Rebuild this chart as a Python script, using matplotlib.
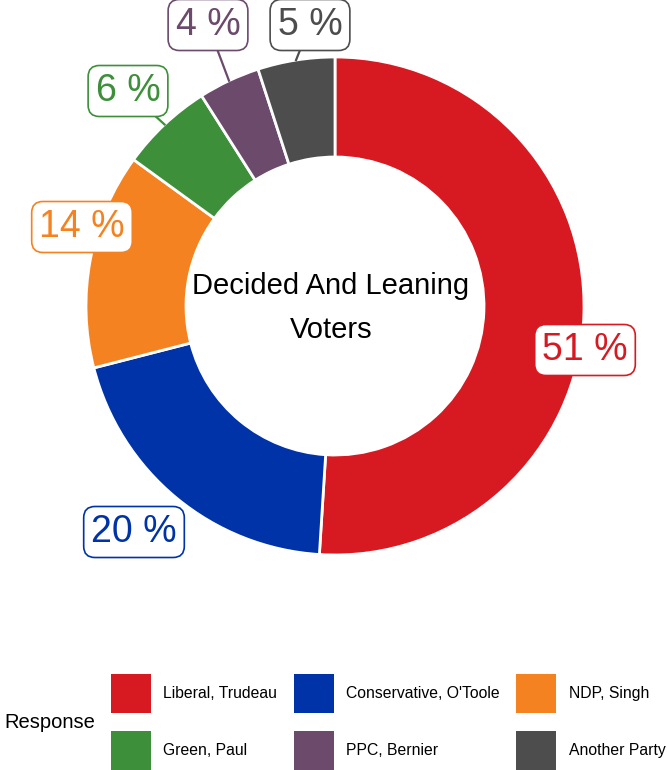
# Donut chart: Decided and leaning voters by party
import numpy as np
import matplotlib.pyplot as plt
from matplotlib.patches import Patch

plt.rcParams['font.family'] = ['Liberation Sans', 'DejaVu Sans']

# Dados
partidos = ['Liberal, Trudeau', 'Conservative, O\'Toole', 'NDP, Singh',
            'Green, Paul', 'PPC, Bernier', 'Another Party']
percentuais = [51, 20, 14, 6, 4, 5]
cores = ['#D71A21', '#0033A8', '#F58220', '#3D8F3A', '#6B4A6B', '#4D4D4D']
rotulos = ['51 %', '20 %', '14 %', '6 %', '4 %', '5 %']

# Layout (pixels, origem no topo à esquerda)
W, H = 667, 770
centro = (335, 306)
raio = 249
largura = 100
pos_rotulos = [(585, 350), (134, 532), (82, 227), (128, 91), (208, 25), (310, 25)]
com_linha = [False, False, False, True, True, True]

fig = plt.figure(figsize=(W / 100, H / 100), dpi=100)
ax = fig.add_axes([0, 0, 1, 1])

wedges, _ = ax.pie(percentuais, colors=cores, startangle=-90, counterclock=True,
                   center=centro, radius=raio,
                   wedgeprops=dict(width=largura, edgecolor='white', linewidth=2))
ax.set_xlim(0, W)
ax.set_ylim(H, 0)
ax.set_aspect('equal')
ax.axis('off')

# Rótulos com linhas de ligação
for w, txt, cor, pos, linha in zip(wedges, rotulos, cores, pos_rotulos, com_linha):
    ang = np.deg2rad((w.theta1 + w.theta2) / 2)
    px = centro[0] + raio * np.cos(ang)
    py = centro[1] + raio * np.sin(ang)
    if linha:
        ax.plot([px, pos[0]], [py, pos[1]], color=cor, lw=1.6, zorder=3)
    ax.text(pos[0], pos[1], txt, color=cor, fontsize=27, ha='center', va='center',
            zorder=4,
            bbox=dict(boxstyle='round,pad=0.2,rounding_size=0.3', fc='white',
                      ec=cor, lw=1.2))

ax.text(centro[0] - 4, centro[1] + 2, 'Decided And Leaning\nVoters', fontsize=21,
        ha='center', va='center', linespacing=1.75)

# Legenda (preenchida por linha: reordena para o preenchimento por coluna)
ordem = [0, 3, 1, 4, 2, 5]
handles = [Patch(facecolor=cores[i], edgecolor='none') for i in ordem]
nomes = [partidos[i] for i in ordem]
fig.legend(handles, nomes, ncol=3, loc='upper left',
           bbox_to_anchor=(103 / W, 1 - 666 / H), frameon=False, fontsize=11.3,
           handlelength=2.55, handleheight=3.5, handletextpad=0.8,
           columnspacing=1.05, labelspacing=1.1, borderpad=0)
fig.text(4 / W, 1 - 722 / H, 'Response', fontsize=14.5, ha='left', va='center')

fig.savefig('out.png', dpi=100)
